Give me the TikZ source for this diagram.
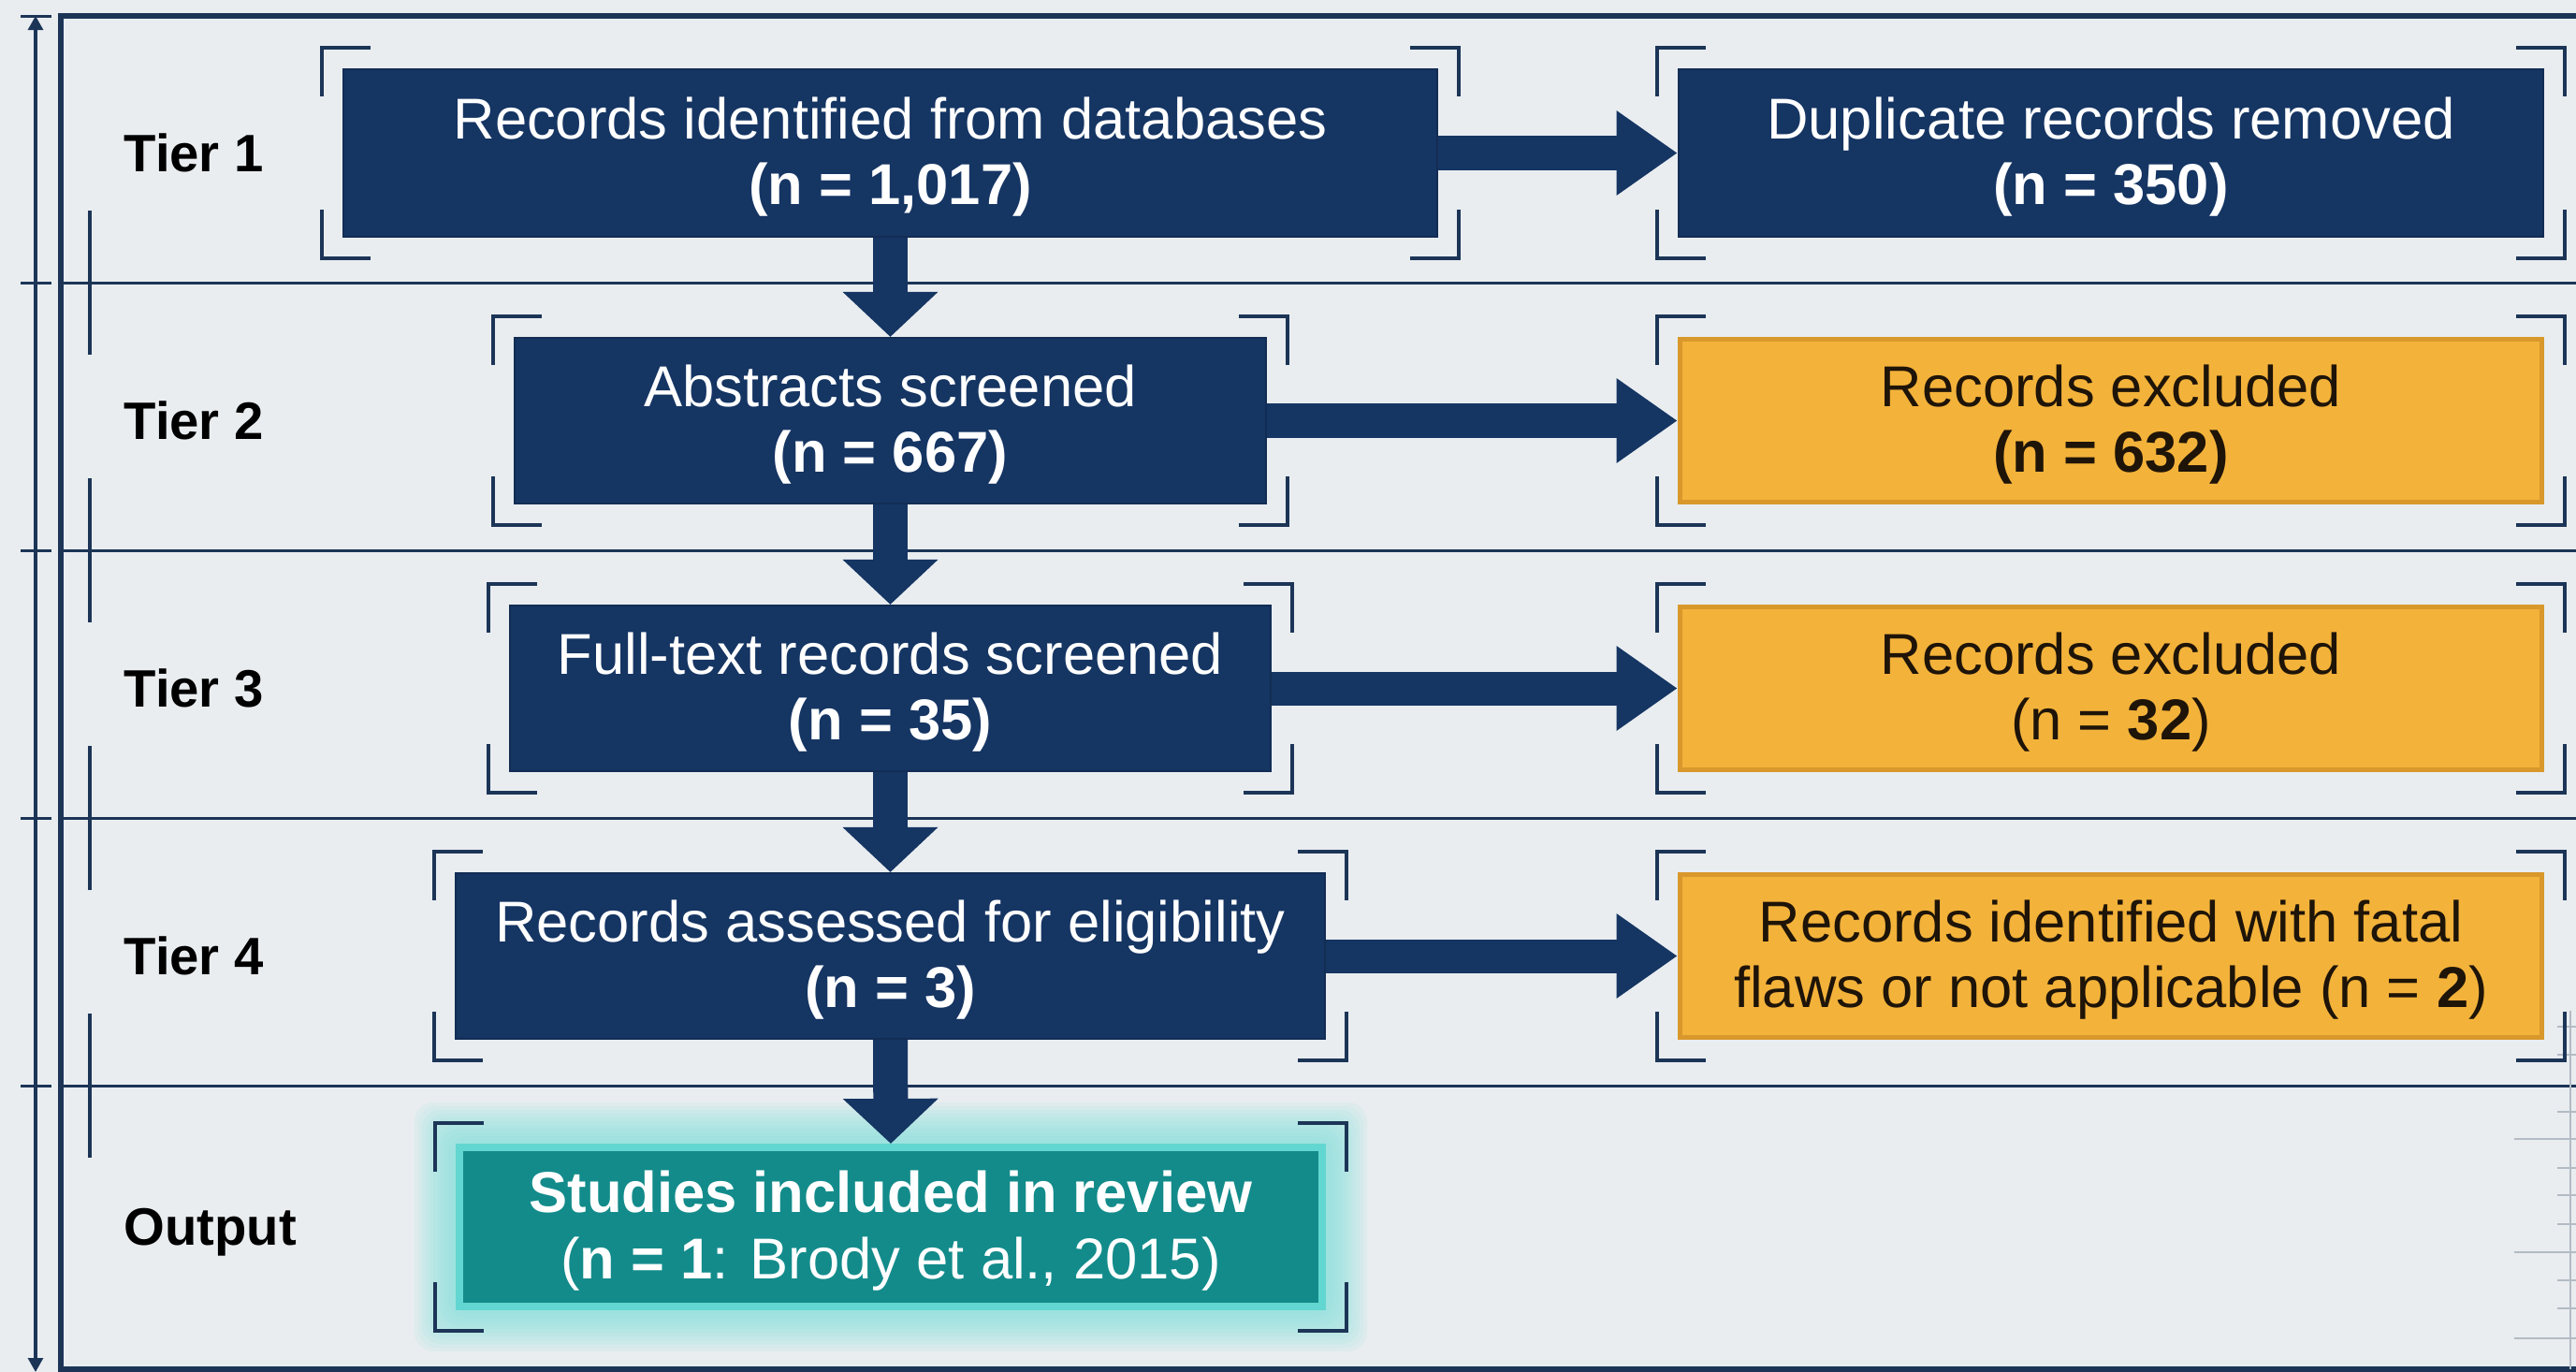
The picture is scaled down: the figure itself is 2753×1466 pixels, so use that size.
\documentclass[tikz,border=0pt]{standalone}
\usepackage{fontspec}
\setmainfont{Liberation Sans}
\usetikzlibrary{arrows.meta}
\definecolor{bg}{HTML}{E9EDF0}
\definecolor{navy}{HTML}{153563}
\definecolor{navyline}{HTML}{1C3557}
\definecolor{orangef}{HTML}{F3B23A}
\definecolor{oranged}{HTML}{D9982B}
\definecolor{tealf}{HTML}{138B8B}
\definecolor{teall}{HTML}{62D6D0}
\definecolor{glowc}{HTML}{7FE2DC}
\definecolor{rulerc}{HTML}{B3BBC4}
\definecolor{txtdark}{HTML}{1E1408}
\newcommand\cornerbrackets[1]{%
  \draw[brk] ([shift={(-22,30)}]#1.north west) -- ++(0,-52) -- ++(52,0);
  \draw[brk] ([shift={(22,30)}]#1.north east) -- ++(0,-52) -- ++(-52,0);
  \draw[brk] ([shift={(-22,-30)}]#1.south west) -- ++(0,52) -- ++(52,0);
  \draw[brk] ([shift={(22,-30)}]#1.south east) -- ++(0,52) -- ++(-52,0);
}
\newcommand\tstrut{\rule{0pt}{15pt}}
\begin{document}
\begin{tikzpicture}[x=0.01cm,y=-0.01cm,
  box/.style={rectangle, inner sep=0pt, align=center, font=\fontsize{17.5}{20}\selectfont},
  navybox/.style={box, fill=navy, draw=navy!85!black, line width=0.02cm, text=white},
  orangebox/.style={box, fill=orangef, draw=oranged, line width=0.05cm, text=txtdark},
  outbox/.style={box, fill=tealf, draw=teall, line width=0.08cm, text=white},
  tierlbl/.style={anchor=west, inner sep=0pt, text depth=0pt, font=\fontsize{16}{19}\selectfont\bfseries, text=black},
  brk/.style={draw=navyline, line width=0.04cm},
  sepline/.style={draw=navyline, line width=0.03cm},
  varrow/.style={draw=navy, line width=0.37cm, -{Triangle[length=0.48cm,width=0.99cm]}},
  harrow/.style={draw=navy, line width=0.36cm, -{Triangle[length=0.65cm,width=0.86cm]}},
  axisarrow/.style={draw=navyline, line width=0.03cm, {Triangle[length=0.15cm,width=0.16cm]}-{Triangle[length=0.15cm,width=0.16cm]}},
  rulerline/.style={draw=rulerc, line width=0.02cm},
]
\useasboundingbox (0,0) rectangle (2753,1466);
\fill[bg] (0,0) rectangle (2753,1466);

% frame
\draw[navyline, line width=0.06cm] (2753,17) -- (65,17) -- (65,1463) -- (2753,1463);
\foreach \y in {302,588,874,1160} {
  \draw[sepline] (65,\y) -- (2753,\y);
  \draw[sepline] (96,\y-77) -- (96,\y+77);
}
\foreach \y in {17,302,588,874,1160} {
  \draw[sepline] (22,\y) -- (55,\y);
}
\coordinate (axtop) at (38,17);
\coordinate (axbot) at (38,1466);
\draw[axisarrow] (axtop) -- (axbot);

% right ruler
\draw[rulerline] (2747,1080) -- (2747,1463);
\foreach \y in {1097,1127,1188,1248,1277,1308,1368,1398} {
  \draw[rulerline] (2733,\y) -- (2753,\y);
}
\foreach \y in {1217,1338,1430} {
  \draw[rulerline] (2687,\y) -- (2753,\y);
}

% tier labels
\node[tierlbl] (t1) at (132,163) {Tier 1};
\node[tierlbl] (t2) at (132,449) {Tier 2};
\node[tierlbl] (t3) at (132,735) {Tier 3};
\node[tierlbl] (t4) at (132,1021) {Tier 4};
\node[tierlbl] (t5) at (132,1311) {Output};

% glow behind output
\foreach \g in {4,8,...,44} {
  \fill[glowc, opacity=0.1, rounded corners=0.2cm] (487-\g,1222-\g) rectangle (1417+\g,1400+\g);
}

% boxes
\node[navybox, minimum width=11.69cm, minimum height=1.79cm] (B1) at (951.5,163.5)
  {\tstrut Records identified from databases\\\textbf{(n = 1,017)}};
\node[navybox, minimum width=9.24cm, minimum height=1.79cm] (D1) at (2256,163.5)
  {\tstrut Duplicate records removed\\\textbf{(n = 350)}};
\node[navybox, minimum width=8.02cm, minimum height=1.77cm] (B2) at (951.5,449.5)
  {\tstrut Abstracts screened\\\textbf{(n = 667)}};
\node[orangebox, minimum width=9.21cm, minimum height=1.74cm] (E2) at (2256,449.5)
  {\tstrut Records excluded\\\textbf{(n = 632)}};
\node[navybox, minimum width=8.13cm, minimum height=1.77cm] (B3) at (951.5,735.5)
  {\tstrut Full-text records screened\\\textbf{(n = 35)}};
\node[orangebox, minimum width=9.21cm, minimum height=1.74cm] (E3) at (2256,735.5)
  {\tstrut Records excluded\\(n = \textbf{32})};
\node[navybox, minimum width=9.29cm, minimum height=1.77cm] (B4) at (951.5,1021.5)
  {\tstrut Records assessed for eligibility\\\textbf{(n = 3)}};
\node[orangebox, minimum width=9.21cm, minimum height=1.74cm] (E4) at (2256,1021.5)
  {\tstrut Records identified with fatal\\flaws or not applicable (n = \textbf{2})};
\node[outbox, minimum width=9.22cm, minimum height=1.70cm] (O) at (952,1311)
  {\tstrut\textbf{Studies included in review}\\(\textbf{n = 1}: Brody et al., 2015)};

% corner brackets
\foreach \n in {B1,D1,B2,E2,B3,E3,B4,E4,O} {
  \cornerbrackets{\n}
}

% arrows
\draw[varrow] (B1.south) -- (B2.north);
\draw[varrow] (B2.south) -- (B3.north);
\draw[varrow] (B3.south) -- (B4.north);
\draw[varrow] (B4.south) -- (O.north);
\draw[harrow] (B1.east) -- (D1.west);
\draw[harrow] (B2.east) -- (E2.west);
\draw[harrow] (B3.east) -- (E3.west);
\draw[harrow] (B4.east) -- (E4.west);
\end{tikzpicture}
\end{document}
